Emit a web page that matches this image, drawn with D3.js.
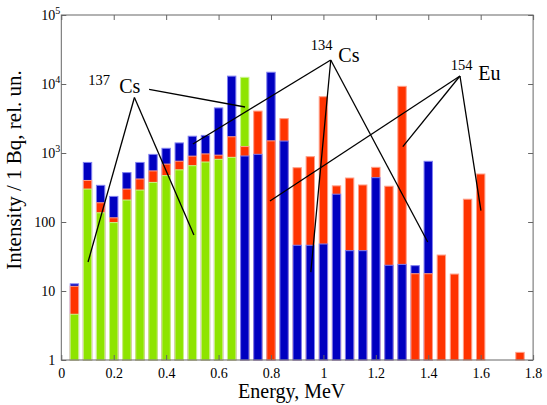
<!DOCTYPE html>
<html>
<head>
<meta charset="utf-8">
<script src="https://cdn.jsdelivr.net/npm/d3@7"></script>
<style>
 body { margin: 0; background: #fff; }
 text { font-family: "Liberation Serif", "Times New Roman", serif; fill: #000; }
</style>
</head>
<body>
<svg id="chart" width="547" height="405"></svg>
<script>
// bin centres, MeV
var energy = [0.05, 0.10, 0.15, 0.20, 0.25, 0.30, 0.35, 0.40, 0.45, 0.50, 0.55, 0.60,
 0.65, 0.70, 0.75, 0.80, 0.85, 0.90, 0.95, 1.00, 1.05, 1.10, 1.15, 1.20, 1.25, 1.30,
 1.35, 1.40, 1.45, 1.50, 1.55, 1.60, 1.65, 1.70, 1.75];

// intensity per bin, 0 = no bar
var cs137 = [4.6, 300, 136, 98, 208, 290, 375, 470, 570, 655, 740, 810,
 865, 12500, 0, 0, 0, 0, 0, 0, 0, 0, 0, 0, 0, 0,
 0, 0, 0, 0, 0, 0, 0, 0, 0];
var cs134 = [12.7, 730, 340, 235, 520, 730, 955, 1170, 1400, 1750, 1800, 4500,
 13000, 905, 957, 14800, 1490, 46, 46, 48, 253, 38.4, 38.4, 439, 23.6, 24.3,
 23.3, 758, 0, 0, 0, 0, 0, 0, 0];
var eu154 = [11.7, 400, 190, 115, 300, 420, 550, 690, 760, 900, 970, 930,
 1720, 1240, 4050, 1500, 3150, 612, 885, 6540, 334, 434, 344, 620, 330, 9250,
 17.8, 17.8, 33.2, 17.6, 214, 496, 0, 0, 1.29];

var xTicks = [0, 0.2, 0.4, 0.6, 0.8, 1, 1.2, 1.4, 1.6, 1.8];
var yTicks = [1, 10, 100, 1e3, 1e4, 1e5];

// isotope labels, positions in (MeV, intensity)
var labels = [
 { iso: "137", el: "Cs", isoAt: [0.103, 9680], elAt: [0.221, 7330] },
 { iso: "134", el: "Cs", isoAt: [0.952, 31100], elAt: [1.057, 20600] },
 { iso: "154", el: "Eu", isoAt: [1.486, 15950], elAt: [1.591, 11430] }
];
var pointers = [
 [[0.335, 8380], [0.701, 4640]],
 [[0.279, 6370], [0.102, 26.3]],
 [[0.279, 6370], [0.506, 64.8]],
 [[1.028, 22280], [0.502, 1350]],
 [[1.028, 22280], [0.952, 18.8]],
 [[1.028, 22280], [1.398, 51.3]],
 [[1.521, 13060], [1.303, 1234]],
 [[1.521, 13060], [0.796, 201]],
 [[1.521, 13060], [1.601, 146]]
];

var series = [
 { values: cs134, fill: "#0000c0", edge: "#8080f0" },
 { values: eu154, fill: "#ff3300", edge: "#ff9f88" },
 { values: cs137, fill: "#8ee400", edge: "#c8f58c" }
];

var plotL = 61.3, plotR = 533.1, plotT = 15, plotB = 360;
var barHalf = 0.016;

var svg = d3.select("#chart");

var x = d3.scaleLinear().domain([0, 1.8]).range([plotL, plotR]);
var y = d3.scaleLog().domain([1, 1e5]).range([plotB, plotT]);

// bars: in each bin the tallest is drawn first, smaller ones in front
var bars = svg.append("g");
energy.forEach(function(e, i) {
 var stack = series
  .map(function(s) { return { v: s.values[i], s: s }; })
  .filter(function(d) { return d.v > 0; })
  .sort(function(a, b) { return b.v - a.v; });
 bars.selectAll(null)
  .data(stack)
  .enter().append("rect")
  .attr("x", x(e - barHalf))
  .attr("width", x(e + barHalf) - x(e - barHalf))
  .attr("y", function(d) { return y(d.v); })
  .attr("height", function(d) { return y(1) - y(d.v); })
  .style("fill", function(d) { return d.s.fill; })
  .style("stroke", function(d) { return d.s.edge; })
  .style("stroke-width", 1);
});

// frame and ticks
var axisColor = "#666";
svg.append("rect")
 .attr("x", plotL).attr("y", plotT)
 .attr("width", plotR - plotL).attr("height", plotB - plotT)
 .style("fill", "none").style("stroke", axisColor).style("stroke-width", 1);

var gx = svg.append("g")
 .attr("transform", "translate(0," + plotB + ")")
 .call(d3.axisBottom(x).tickValues(xTicks).tickSizeInner(-5).tickSizeOuter(0)
  .tickFormat(function(d) { return d3.format("")(d); }));
gx.select(".domain").remove();
gx.selectAll("line").style("stroke", axisColor);
gx.selectAll("text").attr("y", 8).style("font-size", "14px");

var gxTop = svg.append("g")
 .attr("transform", "translate(0," + plotT + ")")
 .call(d3.axisTop(x).tickValues(xTicks).tickSizeInner(-5).tickSizeOuter(0).tickFormat(""));
gxTop.select(".domain").remove();
gxTop.selectAll("line").style("stroke", axisColor);

var gy = svg.append("g")
 .attr("transform", "translate(" + plotL + ",0)")
 .call(d3.axisLeft(y).tickValues(yTicks).tickSizeInner(-5).tickSizeOuter(0).tickFormat(""));
gy.select(".domain").remove();
gy.selectAll("line").style("stroke", axisColor);
gy.selectAll(".tick").each(function(d) {
 var p = Math.round(Math.log10(d));
 var t = d3.select(this).append("text")
  .attr("dy", "0.35em")
  .style("font-size", "14px")
  .attr("text-anchor", "end");
 if (p < 3) {
  t.attr("x", -6).text(d);
 } else {
  t.attr("x", -1);
  t.append("tspan").text("10");
  t.append("tspan").attr("dy", -6).style("font-size", "10px").text(p);
 }
});

var gyRight = svg.append("g")
 .attr("transform", "translate(" + plotR + ",0)")
 .call(d3.axisRight(y).tickValues(yTicks).tickSizeInner(-5).tickSizeOuter(0).tickFormat(""));
gyRight.select(".domain").remove();
gyRight.selectAll("line").style("stroke", axisColor);

// axis titles
svg.append("text")
 .attr("x", 291.7).attr("y", 398)
 .attr("text-anchor", "middle")
 .style("font-size", "20px")
 .text("Energy, MeV");

svg.append("text")
 .attr("transform", "translate(21,170) rotate(-90)")
 .attr("text-anchor", "middle")
 .style("font-size", "21px")
 .text("Intensity / 1 Bq, rel. un.");

// pointer lines and isotope labels
svg.append("g").selectAll("line")
 .data(pointers)
 .enter().append("line")
 .attr("x1", function(d) { return x(d[0][0]); })
 .attr("y1", function(d) { return y(d[0][1]); })
 .attr("x2", function(d) { return x(d[1][0]); })
 .attr("y2", function(d) { return y(d[1][1]); })
 .style("stroke", "#000")
 .style("stroke-width", 1.3);

var lab = svg.append("g").selectAll("g")
 .data(labels)
 .enter().append("g");
lab.append("text")
 .attr("x", function(d) { return x(d.isoAt[0]); })
 .attr("y", function(d) { return y(d.isoAt[1]); })
 .style("font-size", "14.5px")
 .text(function(d) { return d.iso; });
lab.append("text")
 .attr("x", function(d) { return x(d.elAt[0]); })
 .attr("y", function(d) { return y(d.elAt[1]); })
 .style("font-size", "20px")
 .text(function(d) { return d.el; });
</script>
</body>
</html>
